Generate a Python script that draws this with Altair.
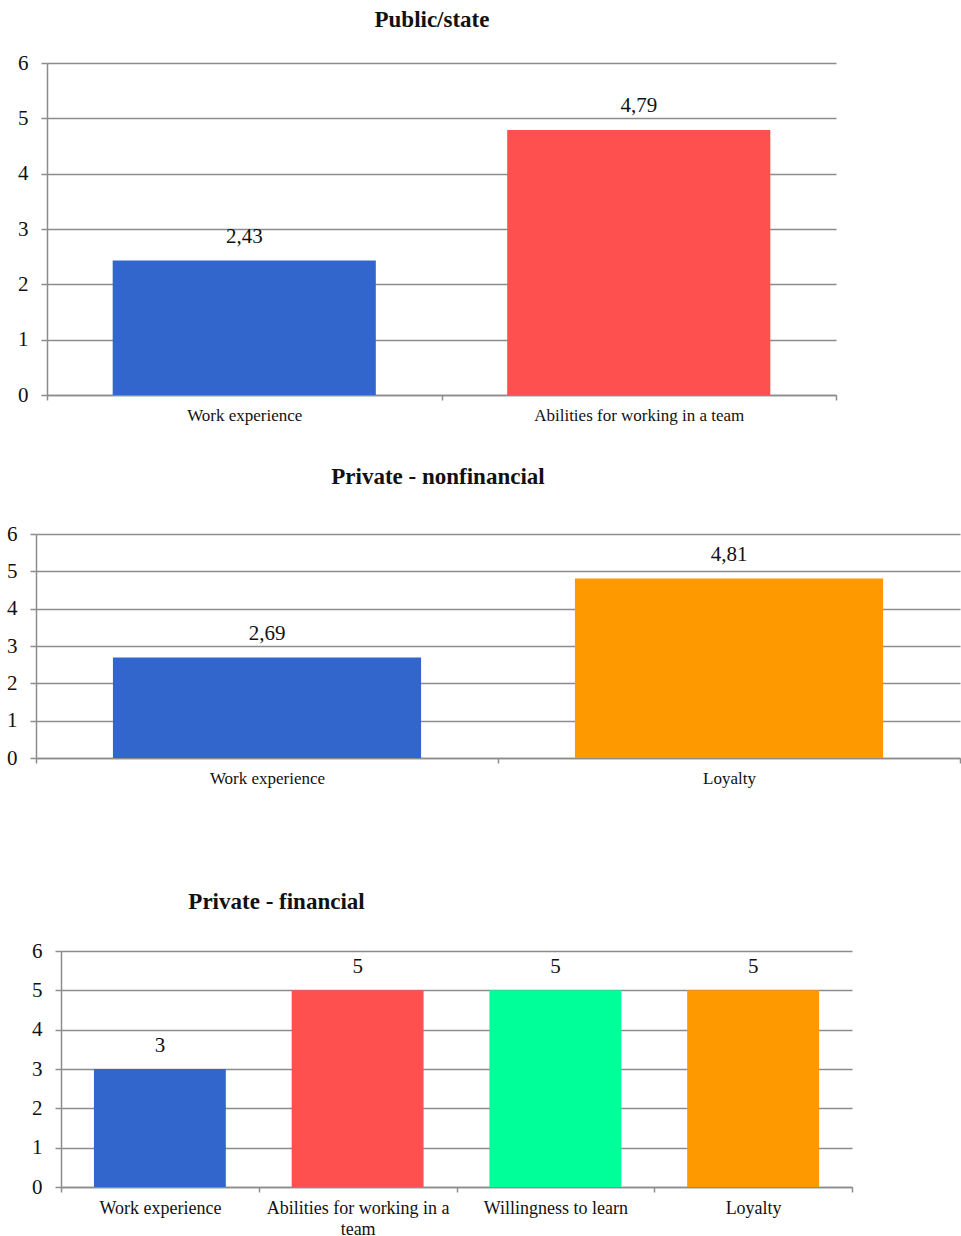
import altair as alt
import pandas as pd

# Public/state sector
public_cats = ["Work experience", "Abilities for working in a team"]
public_vals = [2.43, 4.79]
public_colors = ["#3366CC", "#FF5050"]

# Private - nonfinancial sector
nonfin_cats = ["Work experience", "Loyalty"]
nonfin_vals = [2.69, 4.81]
nonfin_colors = ["#3366CC", "#FF9900"]

# Private - financial sector
fin_cats = ["Work experience", "Abilities for working in a team",
            "Willingness to learn", "Loyalty"]
fin_vals = [3, 5, 5, 5]
fin_colors = ["#3366CC", "#FF5050", "#00FF99", "#FF9900"]

y_ticks = [0, 1, 2, 3, 4, 5, 6]

FONT = "Liberation Serif"
GRID = "#8C8C8C"


def panel(cats, vals, colors, title, width, height, title_dx, title_offset,
          xlabel_size, wrap=False):
    df = pd.DataFrame({"cat": cats, "value": vals, "color": colors})
    label_expr = ("datum.label == 'Abilities for working in a team' ? "
                  "['Abilities for working in a', 'team'] : datum.label") if wrap else "datum.label"
    x = alt.X(
        "cat:N", sort=cats,
        scale=alt.Scale(paddingInner=0, paddingOuter=0),
        axis=alt.Axis(
            title=None, labelAngle=0, tickBand="extent", grid=False,
            domainColor=GRID, domainWidth=1.5, tickColor=GRID, tickWidth=1.5,
            tickSize=5, labelPadding=7, labelFont=FONT, labelFontSize=xlabel_size,
            labelColor="#111111", labelLimit=0, labelExpr=label_expr,
            labelLineHeight=21,
        ),
    )
    y = alt.Y(
        "value:Q",
        scale=alt.Scale(domain=[0, 6], nice=False),
        axis=alt.Axis(
            title=None, values=y_ticks, grid=True, gridColor=GRID, gridWidth=1.5,
            domainColor=GRID, domainWidth=1.5, tickColor=GRID, tickWidth=1.5,
            tickSize=6, labelPadding=13, labelFont=FONT, labelFontSize=21,
            labelColor="#111111",
        ),
    )
    base = alt.Chart(df).encode(x=x, y=y)
    bars = base.mark_bar(width=alt.RelativeBandSize(0.667)).encode(
        color=alt.Color("color:N", scale=None)
    )
    labels = base.transform_calculate(
        txt="replace(toString(datum.value), '.', ',')"
    ).mark_text(
        font=FONT, fontSize=21, color="#111111", baseline="middle", dy=-23.5
    ).encode(text="txt:N")
    return (bars + labels).properties(
        width=width, height=height,
        title=alt.TitleParams(
            title, font=FONT, fontSize=23, fontWeight="bold", color="#111111",
            anchor="middle", dx=title_dx, offset=title_offset,
            baseline="alphabetic",
        ),
    )


def spacer(w):
    return alt.Chart(pd.DataFrame({"s": [0]})).mark_text(text="").encode(
        x=alt.value(0), y=alt.value(0)
    ).properties(width=w, height=1)


row1 = alt.hconcat(
    spacer(17),
    panel(public_cats, public_vals, public_colors, "Public/state",
          789, 332, -9.5, 2, 17),
    spacing=0,
)
row2 = alt.hconcat(
    spacer(6),
    panel(nonfin_cats, nonfin_vals, nonfin_colors, "Private - nonfinancial",
          924, 224, -60, 16, 17),
    spacing=0,
)
row3 = alt.hconcat(
    spacer(31),
    panel(fin_cats, fin_vals, fin_colors, "Private - financial",
          791, 236, -180, 8, 18, wrap=True),
    spacing=0,
)

chart = alt.vconcat(
    alt.vconcat(row1, row2, spacing=43),
    row3,
    spacing=105,
).properties(
    padding={"left": 0, "top": 9, "right": 0, "bottom": 0}
).configure_view(stroke=None)

chart.save("out.html", embed_options={"renderer": "svg", "actions": False})
